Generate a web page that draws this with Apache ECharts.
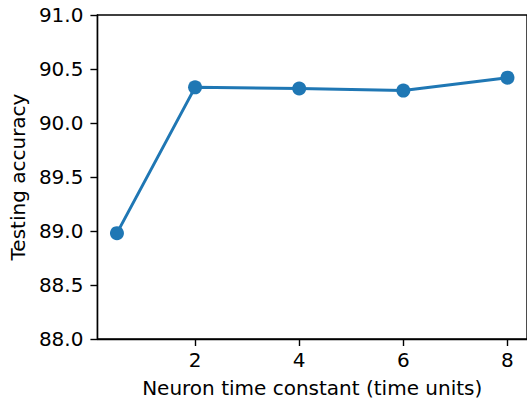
<!DOCTYPE html>
<html>
<head>
<meta charset="utf-8">
<script src="https://cdn.jsdelivr.net/npm/echarts@6/dist/echarts.min.js"></script>
<style>
html,body{margin:0;padding:0;background:#fff;}
#chart{width:527px;height:403px;}
</style>
</head>
<body>
<div id="chart"></div>
<script>
const timeConstants = [0.5, 2, 4, 6, 8];
const accuracy = [88.98, 90.33, 90.32, 90.30, 90.42];
const xTicks = [2, 4, 6, 8];
const yTicks = [88.0, 88.5, 89.0, 89.5, 90.0, 90.5, 91.0];

const chart = echarts.init(document.getElementById('chart'), null, {renderer: 'svg'});
const font = 'DejaVu Sans';
const fs = 20;
chart.setOption({
  animation: false,
  grid: {left: 97, top: 15, right: -2, bottom: 63, show: true, borderColor: '#000', borderWidth: 1.4, backgroundColor: 'transparent'},
  xAxis: {
    type: 'value', min: 0.125, max: 8.375,
    name: 'Neuron time constant (time units)', nameLocation: 'middle', nameGap: 39,
    nameTextStyle: {fontFamily: font, fontSize: fs, color: '#000'},
    axisLine: {show: true, lineStyle: {color: '#000', width: 1.4}},
    axisTick: {show: true, length: 7, lineStyle: {color: '#000', width: 1.4}, customValues: xTicks},
    axisLabel: {fontFamily: font, fontSize: fs, color: '#000', margin: 11, customValues: xTicks},
    splitLine: {show: false}
  },
  yAxis: {
    type: 'value', min: 88, max: 91, interval: 0.5,
    name: 'Testing accuracy', nameLocation: 'middle', nameGap: 68,
    nameTextStyle: {fontFamily: font, fontSize: fs, color: '#000'},
    axisLine: {show: true, lineStyle: {color: '#000', width: 1.4}},
    axisTick: {show: true, length: 7, lineStyle: {color: '#000', width: 1.4}},
    axisLabel: {fontFamily: font, fontSize: fs, color: '#000', margin: 14, formatter: v => v.toFixed(1)},
    splitLine: {show: false}
  },
  series: [{
    type: 'line',
    data: timeConstants.map((x, i) => [x, accuracy[i]]),
    symbol: 'circle', symbolSize: 14,
    lineStyle: {color: '#1f77b4', width: 3},
    itemStyle: {color: '#1f77b4'}
  }]
});
</script>
</body>
</html>
